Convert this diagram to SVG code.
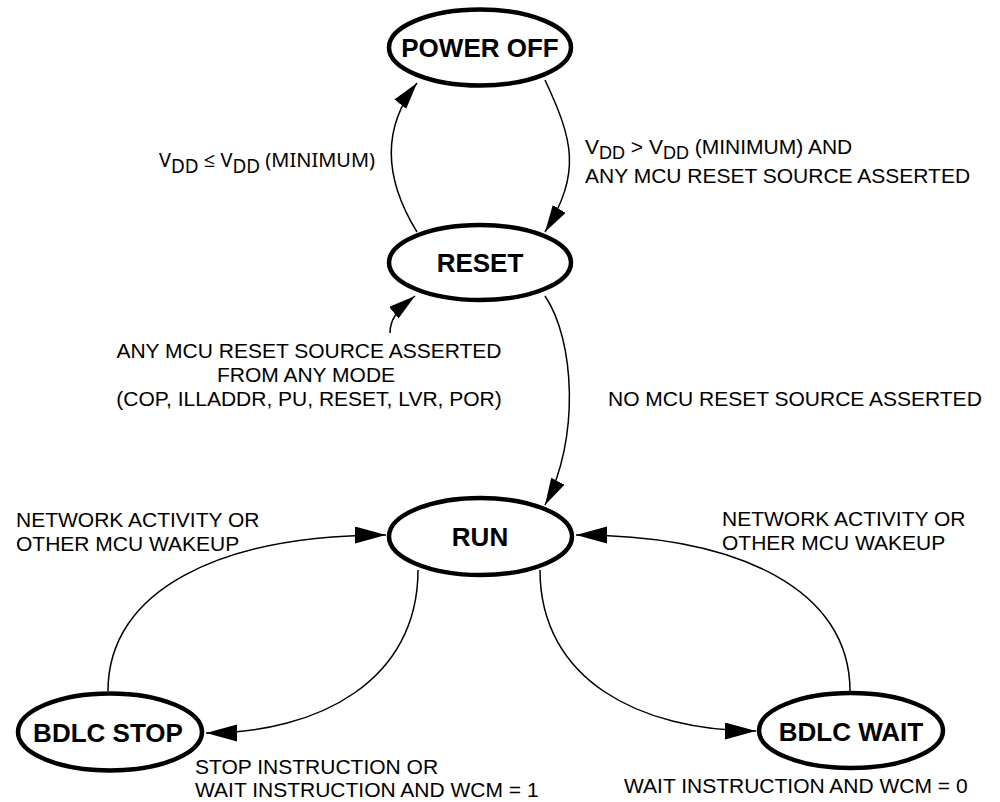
<svg xmlns="http://www.w3.org/2000/svg" width="1000" height="802" viewBox="0 0 1000 802">
<style>
.node ellipse{fill:#fff;stroke:#000;stroke-width:4.5}
.node text{font-family:"Liberation Sans",Arial,sans-serif;font-weight:bold;font-size:26px;text-anchor:middle;fill:#000}
.edge{fill:none;stroke:#000;stroke-width:1.5}
.lbl{font-family:"Liberation Sans",Arial,sans-serif;font-size:21px;fill:#000}
.lbl2{font-family:"Noto Sans","Open Sans",sans-serif;font-size:20px;fill:#000}
.sub{font-size:18px}
.sub2{font-size:19px}
.mid{text-anchor:middle}
</style>
<defs>
<marker id="ab" markerUnits="userSpaceOnUse" markerWidth="32" markerHeight="18" viewBox="0 0 32 18" refX="31" refY="8.5" orient="auto">
<path d="M0,0 L31,8.5 L0,17 z" fill="#000"/>
</marker>
<marker id="as" markerUnits="userSpaceOnUse" markerWidth="28" markerHeight="16" viewBox="0 0 28 16" refX="27" refY="7.5" orient="auto">
<path d="M0,0 L27,7.5 L0,15 z" fill="#000"/>
</marker>
</defs>
<rect width="1000" height="802" fill="#fff"/>
<g id="connectors">
<path class="edge" d="M417,232 C385,180 380,130 417,83" marker-end="url(#as)"/>
<path class="edge" d="M545,80 C573,140 582,172 545,232" marker-end="url(#as)"/>
<path class="edge" d="M390,333 C390,320 396,311 415,296" marker-end="url(#as)"/>
<path class="edge" d="M545,296 C575,340 580,440 545,505" marker-end="url(#as)"/>
<path class="edge" d="M108,691 C108,590 220,535 386,535" marker-end="url(#ab)"/>
<path class="edge" d="M418,570 C418,680 320,733 206,733" marker-end="url(#ab)"/>
<path class="edge" d="M540,570 C540,680 640,731 756,731" marker-end="url(#ab)"/>
<path class="edge" d="M850,691 C850,590 740,535 576,535" marker-end="url(#ab)"/>
</g>
<g id="power-off" class="node"><ellipse cx="480" cy="47.5" rx="91" ry="38"/><text x="480" y="57">POWER OFF</text></g>
<g id="reset" class="node"><ellipse cx="480" cy="262.5" rx="91" ry="37.5"/><text x="480" y="272">RESET</text></g>
<g id="run" class="node"><ellipse cx="480.5" cy="536.5" rx="91.5" ry="38.5"/><text x="480" y="546">RUN</text></g>
<g id="bdlc-stop" class="node"><ellipse cx="110" cy="732" rx="92" ry="38.5"/><text x="108" y="742">BDLC STOP</text></g>
<g id="bdlc-wait" class="node"><ellipse cx="851" cy="730.5" rx="92" ry="37.5"/><text x="851" y="741">BDLC WAIT</text></g>
<g id="labels">
<text class="lbl2" x="159" y="167" textLength="216" lengthAdjust="spacingAndGlyphs">V<tspan class="sub2" dy="6">DD</tspan><tspan dy="-6"> ≤ V</tspan><tspan class="sub2" dy="6">DD</tspan><tspan dy="-6"> (MINIMUM)</tspan></text>
<text class="lbl" x="585" y="154">V<tspan class="sub" dy="5">DD</tspan><tspan dy="-5"> &gt; V</tspan><tspan class="sub" dy="5">DD</tspan><tspan dy="-5"> (MINIMUM) AND</tspan></text>
<text class="lbl" x="585" y="183">ANY MCU RESET SOURCE ASSERTED</text>
<text class="lbl mid" x="309" y="358">ANY MCU RESET SOURCE ASSERTED</text>
<text class="lbl mid" x="306" y="382">FROM ANY MODE</text>
<text class="lbl mid" x="309" y="406">(COP, ILLADDR, PU, RESET, LVR, POR)</text>
<text class="lbl" x="608" y="406">NO MCU RESET SOURCE ASSERTED</text>
<text class="lbl" x="16" y="527">NETWORK ACTIVITY OR</text>
<text class="lbl" x="16" y="551">OTHER MCU WAKEUP</text>
<text class="lbl" x="722" y="526">NETWORK ACTIVITY OR</text>
<text class="lbl" x="722" y="550">OTHER MCU WAKEUP</text>
<text class="lbl" x="195" y="774">STOP INSTRUCTION OR</text>
<text class="lbl" x="195" y="797">WAIT INSTRUCTION AND WCM = 1</text>
<text class="lbl" x="624" y="793">WAIT INSTRUCTION AND WCM = 0</text>
</g>
</svg>
